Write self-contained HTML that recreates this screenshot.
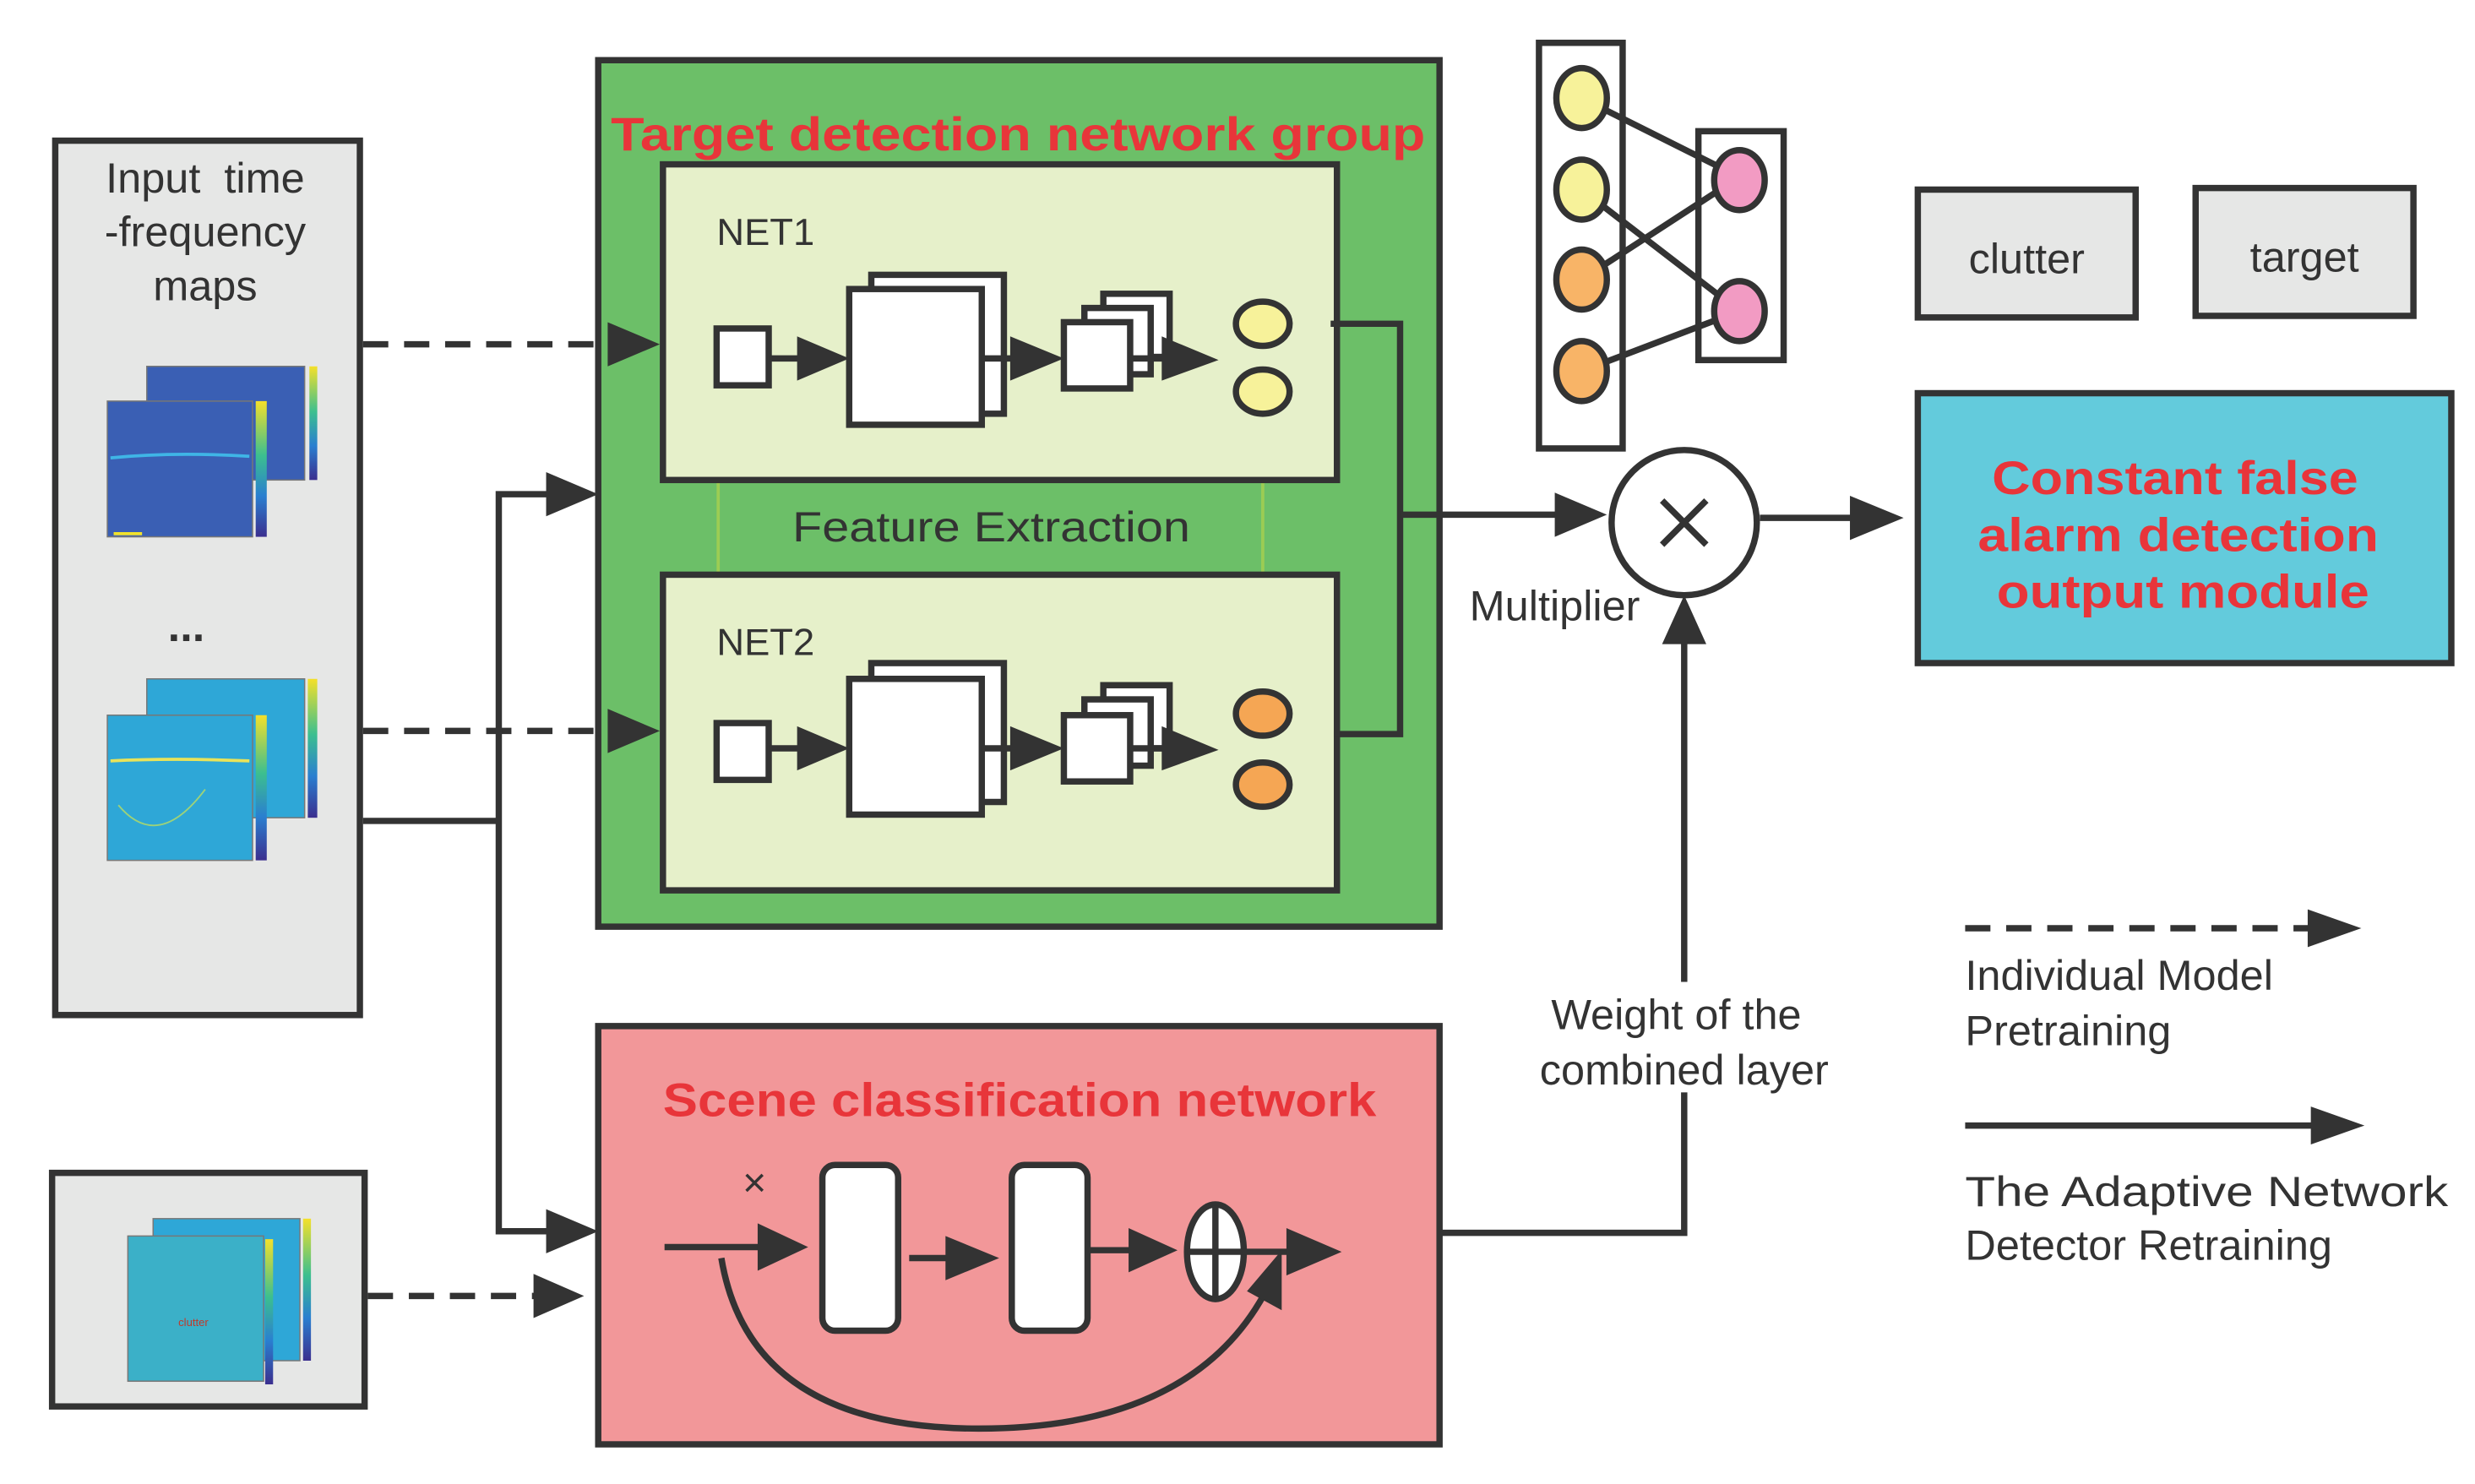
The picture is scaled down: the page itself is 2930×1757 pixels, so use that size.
<!DOCTYPE html>
<html><head><meta charset="utf-8"><style>
html,body{margin:0;padding:0;background:#fff;}
svg{display:block;}
text{font-family:"Liberation Sans",sans-serif;fill:#333;}
.t{font-size:27px;}
.red{fill:#e8353a;font-weight:bold;font-size:30px;}
</style></head><body>
<svg width="2930" height="1757" viewBox="0 0 1568 940" xmlns="http://www.w3.org/2000/svg">
<defs>
<linearGradient id="cb1" x1="0" y1="1" x2="0" y2="0"><stop offset="0" stop-color="#3b2f8f"/><stop offset="0.3" stop-color="#2a7fd0"/><stop offset="0.6" stop-color="#3cbf8f"/><stop offset="1" stop-color="#f4e02a"/></linearGradient>
</defs>
<g stroke="#333" stroke-width="4" fill="none">
<rect x="35" y="89" width="193" height="554" fill="#e6e7e6"/>
<rect x="33" y="743" width="198" height="148" fill="#e6e7e6"/>
</g>
<text class="t" x="130" y="122" text-anchor="middle" xml:space="preserve">Input  time</text>
<text class="t" x="130" y="156" text-anchor="middle">-frequency</text>
<text class="t" x="130" y="190" text-anchor="middle">maps</text>
<text x="118" y="406" text-anchor="middle" style="font-size:28px;font-weight:bold">...</text>
<g>
<rect x="93" y="232" width="100" height="72" fill="#3a5fb4" stroke="#777" stroke-width="0.8"/>
<rect x="196" y="232" width="5" height="72" fill="url(#cb1)"/>
<rect x="68" y="254" width="92" height="86" fill="#3a5fb4" stroke="#777" stroke-width="0.8"/>
<rect x="162" y="254" width="7" height="86" fill="url(#cb1)"/>
<path d="M70 290 Q110 286 158 289" stroke="#3fb5e6" stroke-width="2" fill="none"/>
<path d="M72 338 L90 338" stroke="#f1e22c" stroke-width="2"/>
</g>
<g>
<rect x="93" y="430" width="100" height="88" fill="#2ea7d7" stroke="#777" stroke-width="0.8"/>
<rect x="195" y="430" width="6" height="88" fill="url(#cb1)"/>
<rect x="68" y="453" width="92" height="92" fill="#2ea7d7" stroke="#777" stroke-width="0.8"/>
<rect x="162" y="453" width="7" height="92" fill="url(#cb1)"/>
<path d="M70 482 Q110 480 158 482" stroke="#e8e35a" stroke-width="2" fill="none"/>
<path d="M75 510 Q100 540 130 500" stroke="#9cd27a" stroke-width="1" fill="none"/>
</g>
<g>
<rect x="97" y="772" width="93" height="90" fill="#2ea7d7" stroke="#777" stroke-width="0.8"/>
<rect x="192" y="772" width="5" height="90" fill="url(#cb1)"/>
<rect x="81" y="783" width="86" height="92" fill="#3bb0c8" stroke="#777" stroke-width="0.8"/>
<rect x="168" y="785" width="5" height="92" fill="url(#cb1)"/>
<text x="113" y="840" style="font-size:7px;fill:#c0392b">clutter</text>
</g>
<rect x="379" y="38" width="533" height="549" fill="#6cbf68" stroke="#333" stroke-width="4"/>
<text class="red" x="645" y="95" text-anchor="middle" textLength="516" lengthAdjust="spacingAndGlyphs">Target detection network group</text>
<line x1="455" y1="304" x2="455" y2="364" stroke="#9ccc54" stroke-width="2"/>
<line x1="800" y1="304" x2="800" y2="364" stroke="#9ccc54" stroke-width="2"/>
<text class="t" x="628" y="343" text-anchor="middle" textLength="252" lengthAdjust="spacingAndGlyphs">Feature Extraction</text>
<g>
<rect x="420" y="104" width="427" height="200" fill="#e6f0ca" stroke="#333" stroke-width="4"/>
<text x="454" y="155" style="font-size:24px" textLength="62" lengthAdjust="spacingAndGlyphs">NET1</text>
<g stroke="#333" stroke-width="4" fill="#fff">
<rect x="454" y="208" width="33" height="36"/>
<rect x="552" y="174" width="84" height="88"/>
<rect x="538" y="183" width="84" height="86"/>
<rect x="699" y="186" width="42" height="40"/>
<rect x="687" y="195" width="42" height="42"/>
<rect x="674" y="204" width="42" height="42"/>
<line x1="487" y1="227" x2="510" y2="227"/>
<line x1="622" y1="227" x2="648" y2="227"/>
<line x1="716" y1="227" x2="742" y2="227"/>
<ellipse cx="800" cy="205" rx="17" ry="14" fill="#f7f29a"/>
<ellipse cx="800" cy="248" rx="17" ry="14" fill="#f7f29a"/>
</g>
<g fill="#333">
<path d="M505 213 L538 227 L505 241Z"/>
<path d="M640 213 L674 227 L640 241Z"/>
<path d="M736 213 L772 228 L736 241Z"/>
</g>
</g>
<g transform="translate(0,260)">
<rect x="420" y="104" width="427" height="200" fill="#e6f0ca" stroke="#333" stroke-width="4"/>
<text x="454" y="155" style="font-size:24px" textLength="62" lengthAdjust="spacingAndGlyphs">NET2</text>
<g stroke="#333" stroke-width="4" fill="#fff">
<rect x="454" y="198" width="33" height="36"/>
<rect x="552" y="160" width="84" height="88"/>
<rect x="538" y="170" width="84" height="86"/>
<rect x="699" y="174" width="42" height="40"/>
<rect x="687" y="183" width="42" height="42"/>
<rect x="674" y="193" width="42" height="42"/>
<line x1="487" y1="214" x2="510" y2="214"/>
<line x1="622" y1="214" x2="648" y2="214"/>
<line x1="716" y1="214" x2="742" y2="214"/>
<ellipse cx="800" cy="192" rx="17" ry="14" fill="#f5a654"/>
<ellipse cx="800" cy="237" rx="17" ry="14" fill="#f5a654"/>
</g>
<g fill="#333">
<path d="M505 200 L538 214 L505 228Z"/>
<path d="M640 200 L674 214 L640 228Z"/>
<path d="M736 200 L772 215 L736 228Z"/>
</g>
</g>
<rect x="379" y="650" width="533" height="265" fill="#f29799" stroke="#333" stroke-width="4"/>
<text class="red" x="646" y="707" text-anchor="middle" textLength="452" lengthAdjust="spacingAndGlyphs">Scene classification network</text>
<text x="478" y="758" text-anchor="middle" style="font-size:26px">×</text>
<g stroke="#333" stroke-width="4" fill="#fff">
<rect x="521" y="738" width="48" height="105" rx="8"/>
<rect x="641" y="738" width="48" height="105" rx="8"/>
<line x1="421" y1="790" x2="485" y2="790"/>
<line x1="576" y1="797" x2="600" y2="797"/>
<line x1="689" y1="792" x2="720" y2="792"/>
<ellipse cx="770" cy="793" rx="18" ry="30"/>
<line x1="770" y1="764" x2="770" y2="822"/>
<line x1="752" y1="793" x2="820" y2="793"/>
<path d="M457 797 Q475 905 620 905 Q760 905 805 812" fill="none"/>
</g>
<g fill="#333">
<path d="M480 775 L512 790 L480 805Z"/>
<path d="M599 783 L633 797 L599 811Z"/>
<path d="M715 778 L746 792 L715 806Z"/>
<path d="M815 778 L850 793 L815 808Z"/>
<path d="M790 818 L812 792 L812 830Z"/>
</g>
<g stroke="#333" stroke-width="4" fill="none">
<line x1="230" y1="218" x2="390" y2="218" stroke-dasharray="16,10"/>
<line x1="230" y1="463" x2="390" y2="463" stroke-dasharray="16,10"/>
<line x1="233" y1="821" x2="342" y2="821" stroke-dasharray="16,10"/>
<polyline points="230,520 316,520"/>
<polyline points="350,313 316,313 316,780 350,780"/>
<polyline points="843,205 887,205 887,465 845,465"/>
<line x1="887" y1="326" x2="990" y2="326"/>
<polyline points="913,781 1067,781 1067,405"/>
<line x1="1115" y1="328" x2="1180" y2="328"/>
<circle cx="1067" cy="331" r="46" fill="#fff"/>
<line x1="1053" y1="317" x2="1081" y2="345"/>
<line x1="1081" y1="317" x2="1053" y2="345"/>
</g>
<g fill="#333">
<path d="M385 204 L418 218 L385 232Z"/>
<path d="M385 449 L418 463 L385 477Z"/>
<path d="M338 807 L370 821 L338 835Z"/>
<path d="M346 299 L379 313 L346 327Z"/>
<path d="M346 766 L379 780 L346 794Z"/>
<path d="M985 312 L1018 326 L985 340Z"/>
<path d="M1053 408 L1067 377 L1081 408Z"/>
<path d="M1172 314 L1206 328 L1172 342Z"/>
</g>
<rect x="960" y="622" width="215" height="70" fill="#fff"/>
<text class="t" x="985" y="393" text-anchor="middle">Multiplier</text>
<text class="t" x="1062" y="652" text-anchor="middle">Weight of the</text>
<text class="t" x="1067" y="687" text-anchor="middle">combined layer</text>
<g stroke="#333" stroke-width="4">
<rect x="975" y="27" width="53" height="257" fill="#fff"/>
<rect x="1076" y="83" width="54" height="145" fill="#fff"/>
<line x1="1002" y1="62" x2="1102" y2="112"/>
<line x1="1002" y1="120" x2="1102" y2="197"/>
<line x1="1002" y1="177" x2="1102" y2="112"/>
<line x1="1002" y1="235" x2="1102" y2="197"/>
<ellipse cx="1002" cy="62" rx="16" ry="19" fill="#f7f29a"/>
<ellipse cx="1002" cy="120" rx="16" ry="19" fill="#f7f29a"/>
<ellipse cx="1002" cy="177" rx="16" ry="19" fill="#f8b467"/>
<ellipse cx="1002" cy="235" rx="16" ry="19" fill="#f8b467"/>
<ellipse cx="1102" cy="114" rx="16" ry="19" fill="#f29bc3"/>
<ellipse cx="1102" cy="197" rx="16" ry="19" fill="#f29bc3"/>
<rect x="1215" y="120" width="138" height="81" fill="#e6e7e6"/>
<rect x="1391" y="119" width="138" height="81" fill="#e6e7e6"/>
<rect x="1215" y="249" width="338" height="171" fill="#63cbdc"/>
</g>
<text class="t" x="1284" y="173" text-anchor="middle">clutter</text>
<text class="t" x="1460" y="172" text-anchor="middle">target</text>
<text class="red" x="1378" y="313" text-anchor="middle" textLength="232" lengthAdjust="spacingAndGlyphs">Constant false</text>
<text class="red" x="1380" y="349" text-anchor="middle" textLength="254" lengthAdjust="spacingAndGlyphs">alarm detection</text>
<text class="red" x="1383" y="385" text-anchor="middle" textLength="236" lengthAdjust="spacingAndGlyphs">output module</text>
<g stroke="#333" stroke-width="4">
<line x1="1245" y1="588" x2="1468" y2="588" stroke-dasharray="16,10"/>
<line x1="1245" y1="713" x2="1470" y2="713"/>
</g>
<g fill="#333">
<path d="M1462 576 L1496 588 L1462 600Z"/>
<path d="M1464 701 L1498 713 L1464 725Z"/>
</g>
<text class="t" x="1245" y="627">Individual Model</text>
<text class="t" x="1245" y="662">Pretraining</text>
<text class="t" x="1245" y="764" textLength="306" lengthAdjust="spacingAndGlyphs">The Adaptive Network</text>
<text class="t" x="1245" y="798">Detector Retraining</text>
</svg>
</body></html>
